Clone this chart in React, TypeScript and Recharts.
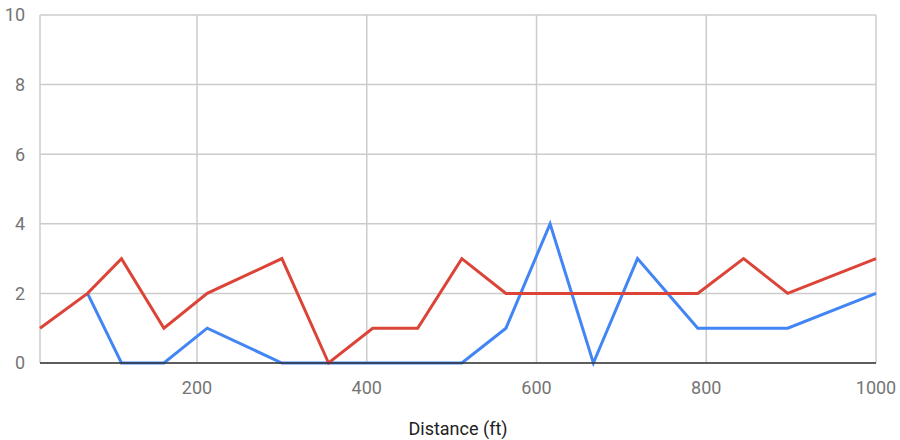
import React from "react";
import { LineChart, Line, XAxis, YAxis, CartesianGrid } from "recharts";

// Distance along the course, in feet
const distances = [15, 71, 111, 161, 212, 300, 355, 407, 460, 512, 564, 616, 667, 719, 790, 844, 896, 1000];
// Counts recorded at each distance
const blueSeries: (number | null)[] = [null, 2, 0, 0, 1, 0, 0, 0, 0, 0, 1, 4, 0, 3, 1, 1, 1, 2];
const redSeries: (number | null)[] = [1, 2, 3, 1, 2, 3, 0, 1, 1, 3, 2, 2, 2, 2, 2, 3, 2, 3];

const xTicks = [200, 400, 600, 800, 1000];
const yTicks = [0, 2, 4, 6, 8, 10];

const data = distances.map((d, i) => ({
  dist: d,
  blue: blueSeries[i],
  red: redSeries[i],
}));

const tickStyle = { fontSize: 18, fill: "#757575", fontFamily: "Roboto" };

export default function App() {
  return (
    <div style={{ position: "absolute", left: 0, top: 0, width: 900, height: 440, background: "#fff" }}>
      <LineChart
        width={900}
        height={440}
        data={data}
        margin={{ top: 15, right: 24, left: 0, bottom: 0 }}
        style={{ fontFamily: "Roboto" }}
      >
        <CartesianGrid stroke="#cccccc" strokeWidth={1.5} />
        <XAxis
          type="number"
          dataKey="dist"
          domain={[15, 1000]}
          ticks={xTicks}
          height={77}
          tickLine={false}
          tickMargin={12}
          axisLine={{ stroke: "#333333", strokeWidth: 1.5 }}
          tick={tickStyle}
          label={{
            value: "Distance (ft)",
            position: "insideBottom",
            offset: 5,
            style: { fontSize: 18, fill: "#222222", fontFamily: "Roboto" },
          }}
        />
        <YAxis
          type="number"
          domain={[0, 10]}
          ticks={yTicks}
          width={40}
          axisLine={false}
          tickLine={false}
          tickMargin={9}
          tick={tickStyle}
        />
        <Line
          type="linear"
          dataKey="blue"
          stroke="#4285f4"
          strokeWidth={3}
          dot={false}
          isAnimationActive={false}
        />
        <Line
          type="linear"
          dataKey="red"
          stroke="#db4437"
          strokeWidth={3}
          dot={false}
          isAnimationActive={false}
        />
      </LineChart>
    </div>
  );
}
